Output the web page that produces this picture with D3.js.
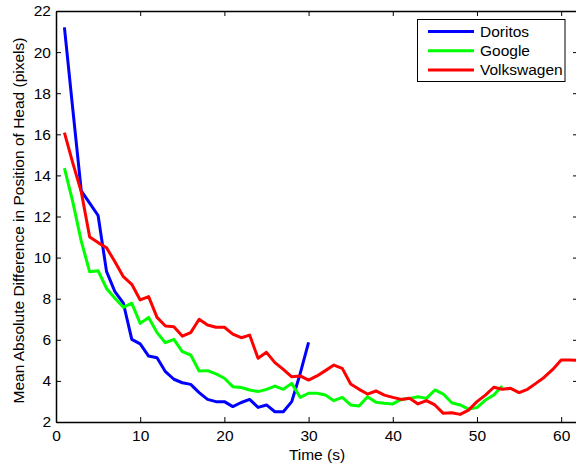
<!DOCTYPE html>
<html>
<head>
<meta charset="utf-8">
<script src="https://cdn.jsdelivr.net/npm/d3@7"></script>
<style>
  html, body { margin: 0; padding: 0; background: #fff; }
  svg { display: block; }
  text { font-family: "Liberation Sans", Arial, Helvetica, sans-serif; }
</style>
</head>
<body>
<svg id="chart" width="576" height="465"></svg>
<script>
// ---- data ----
const seriesNames = ["Doritos", "Google", "Volkswagen"];
const seriesColors = ["#0000ff", "#00ff00", "#ff0000"];

const doritos = [21.2, 17.2, 13.25, 12.65, 12.05, 9.33, 8.34, 7.78, 6.02, 5.80,
  5.21, 5.13, 4.45, 4.08, 3.91, 3.83, 3.43, 3.10, 2.99, 2.99,
  2.75, 2.95, 3.10, 2.71, 2.83, 2.50, 2.50, 2.99, 4.35, 5.88];

const google = [14.35, 12.7, 10.8, 9.31, 9.36, 8.50, 8.02, 7.58, 7.78, 6.80,
  7.09, 6.35, 5.86, 6.02, 5.42, 5.26, 4.48, 4.50, 4.34, 4.13,
  3.72, 3.68, 3.56, 3.48, 3.59, 3.75, 3.59, 3.88, 3.20, 3.40,
  3.40, 3.31, 3.04, 3.20, 2.83, 2.78, 3.23, 2.96, 2.91, 2.88,
  3.10, 3.15, 3.23, 3.15, 3.56, 3.36, 2.94, 2.83, 2.63, 2.70,
  3.07, 3.31, 3.75];

const volkswagen = [16.08, 14.6, 13.2, 11.0, 10.73, 10.48, 9.80, 9.07, 8.70, 7.94,
  8.10, 7.09, 6.67, 6.64, 6.18, 6.35, 7.00, 6.72, 6.61, 6.61,
  6.28, 6.10, 6.23, 5.10, 5.39, 4.89, 4.56, 4.20, 4.24, 4.04,
  4.24, 4.50, 4.77, 4.61, 3.85, 3.59, 3.36, 3.51, 3.31, 3.20,
  3.10, 3.16, 2.88, 3.04, 2.83, 2.42, 2.45, 2.37, 2.58, 2.99,
  3.31, 3.69, 3.59, 3.64, 3.43, 3.59, 3.88, 4.18, 4.56, 5.02,
  5.02, 5.00];

const xTicks = [0, 10, 20, 30, 40, 50, 60];
const yTicks = [2, 4, 6, 8, 10, 12, 14, 16, 18, 20, 22];
const xLabel = "Time (s)";
const yLabel = "Mean Absolute Difference in Position of Head (pixels)";

// ---- layout ----
const svg = d3.select("#chart");
const mLeft = 56, mRight = 578, mTop = 11, mBottom = 422;
const x = d3.scaleLinear().domain([0, 62]).range([mLeft, mRight]);
const y = d3.scaleLinear().domain([2, 22]).range([mBottom, mTop]);

const allSeries = [doritos, google, volkswagen];

// lines (clipped to plot)
svg.append("defs").append("clipPath").attr("id", "clip")
  .append("rect").attr("x", mLeft).attr("y", mTop)
  .attr("width", mRight - mLeft).attr("height", mBottom - mTop);

const line = d3.line().x((d, i) => x(i + 1)).y(d => y(d));
const g = svg.append("g").attr("clip-path", "url(#clip)");
allSeries.forEach((s, k) => {
  g.append("path").datum(s)
    .attr("d", line)
    .attr("fill", "none")
    .attr("stroke", seriesColors[k])
    .attr("stroke-width", 3)
    .attr("stroke-linejoin", "round")
    .attr("stroke-linecap", "butt");
});

// axes (MATLAB style: inward ticks on all sides)
const tickLen = 5;
const fontSize = 15.5;
const axB = d3.axisBottom(x).tickValues(xTicks).tickSizeInner(-tickLen).tickSizeOuter(0).tickPadding(8);
const axT = d3.axisTop(x).tickValues(xTicks).tickSizeInner(-tickLen).tickSizeOuter(0).tickFormat("");
const axL = d3.axisLeft(y).tickValues(yTicks).tickSizeInner(-tickLen).tickSizeOuter(0).tickPadding(5);
const axR = d3.axisRight(y).tickValues(yTicks).tickSizeInner(-tickLen).tickSizeOuter(0).tickFormat("");

function styleAxis(sel) {
  sel.selectAll("path.domain").attr("stroke", "#000").attr("stroke-width", 1.5);
  sel.selectAll(".tick line").attr("stroke", "#000").attr("stroke-width", 1);
  sel.selectAll(".tick text").attr("fill", "#000").style("font-size", fontSize + "px")
    .style("font-family", '"Liberation Sans", Arial, sans-serif');
}
svg.append("g").attr("transform", `translate(0,${mBottom})`).call(axB).call(styleAxis);
svg.append("g").attr("transform", `translate(0,${mTop})`).call(axT).call(styleAxis);
svg.append("g").attr("transform", `translate(${mLeft},0)`).call(axL).call(styleAxis);
svg.append("g").attr("transform", `translate(${mRight},0)`).call(axR).call(styleAxis);

// axis labels
svg.append("text").attr("x", 317).attr("y", 460)
  .attr("text-anchor", "middle").style("font-size", fontSize + "px").text(xLabel);
svg.append("text").attr("transform", `translate(24,${(mTop + mBottom) / 2 + 4}) rotate(-90)`)
  .attr("text-anchor", "middle").style("font-size", fontSize + "px").text(yLabel);

// legend
const lg = svg.append("g");
lg.append("rect").attr("x", 417.5).attr("y", 19.5).attr("width", 147.5).attr("height", 62)
  .attr("fill", "#fff").attr("stroke", "#000").attr("stroke-width", 1);
seriesNames.forEach((n, k) => {
  const yy = 31.5 + k * 19.2;
  lg.append("line").attr("x1", 428).attr("x2", 474).attr("y1", yy).attr("y2", yy)
    .attr("stroke", seriesColors[k]).attr("stroke-width", 3);
  lg.append("text").attr("x", 480).attr("y", yy).attr("dy", "0.35em")
    .style("font-size", fontSize + "px").text(n);
});
</script>
</body>
</html>
